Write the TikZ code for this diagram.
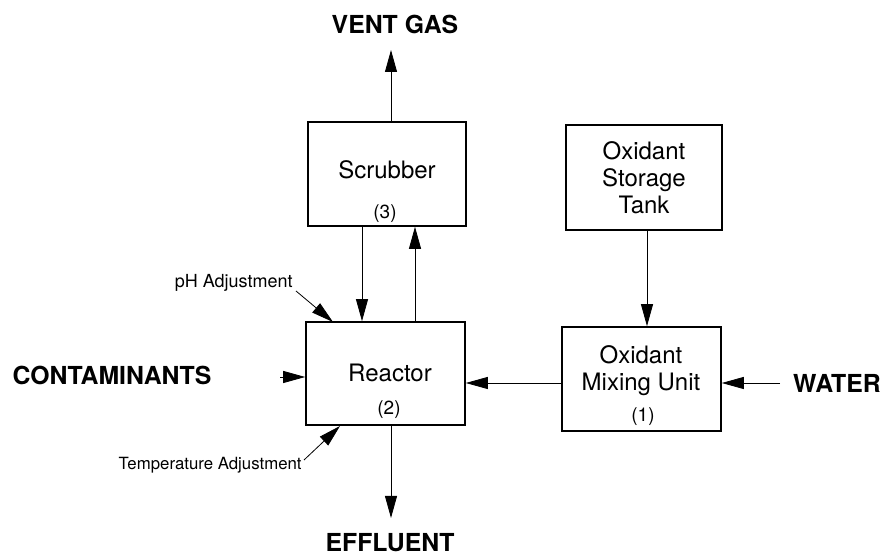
\documentclass[tikz,border=0pt]{standalone}
\usepackage{fontspec}
\setmainfont{TeX Gyre Heros}
\usetikzlibrary{arrows.meta}
\begin{document}
\begin{tikzpicture}[x=0.5pt,y=-0.5pt,
  unit/.style={draw,line width=0.8pt,inner sep=0pt,font=\fontsize{12}{14}\selectfont,align=center},
  lbl/.style={font=\fontsize{12.4}{14}\selectfont\bfseries,inner sep=0pt},
  small/.style={font=\fontsize{9}{11}\selectfont,inner sep=0pt},
  flow/.style={line width=0.4pt,-{Triangle[length=11pt,width=6pt]}},
  num/.style={font=\fontsize{9.5}{11}\selectfont,inner sep=0pt}]
\useasboundingbox (0,0) rectangle (885,555);
% boxes
\node[unit,minimum width=79pt,minimum height=52pt] (scr) at (387,174) {};
\node[unit,minimum width=78pt,minimum height=52.5pt] (tank) at (644,177.5) {};
\node[unit,minimum width=79.5pt,minimum height=51.5pt] (rea) at (385.5,373.5) {};
\node[unit,minimum width=79.5pt,minimum height=52pt] (mix) at (641.5,379) {};
% box texts
\node[font=\fontsize{12}{14}\selectfont,inner sep=0pt] (scrt) at (387,170) {Scrubber};
\node[num] (scrn) at (385,214) {(3)};
\node[font=\fontsize{12}{13.5}\selectfont,inner sep=0pt,align=center] (tankt) at (644,178) {Oxidant\\Storage\\Tank};
\node[font=\fontsize{12}{14}\selectfont,inner sep=0pt] (reat) at (390,373) {Reactor};
\node[num] (rean) at (389,410) {(2)};
\node[font=\fontsize{12}{13.5}\selectfont,inner sep=0pt,align=center] (mixt) at (641,371) {Oxidant\\Mixing Unit};
\node[num] (mixn) at (643,417) {(1)};
% outer labels
\node[lbl] (vent) at (395,24) {VENT GAS};
\node[lbl] (eff) at (390,543) {EFFLUENT};
\node[lbl] (cont) at (112,375) {CONTAMINANTS};
\node[lbl] (water) at (837,383) {WATER};
\node[small,anchor=east] (ph) at (293,283) {pH Adjustment};
\node[small,anchor=east,font=\fontsize{8.4}{10}\selectfont] (temp) at (302,465) {Temperature Adjustment};
% free ends
\coordinate (ventend) at (391,50);
\coordinate (effend) at (391,518);
\coordinate (contstart) at (280,377);
\coordinate (waterstart) at (780,383);
\coordinate (phs) at (296,291);
\coordinate (phe) at (333,322);
\coordinate (ts) at (304,460);
\coordinate (te) at (340,426);
% connectors
\draw[flow] (scr.north -| ventend) -- (ventend);
\draw[flow] (scr.south -| 362,0) -- (rea.north -| 362,0);
\draw[flow] (rea.north -| 415,0) -- (scr.south -| 415,0);
\draw[flow] (tank.south -| 647,0) -- (mix.north -| 647,0);
\draw[flow] (mix.west |- 0,383) -- (rea.east |- 0,383);
\draw[flow] (waterstart) -- (mix.east |- waterstart);
\draw[flow] (contstart) -- (rea.west |- contstart);
\draw[flow] (rea.south -| effend) -- (effend);
\draw[flow] (phs) -- (phe);
\draw[flow] (ts) -- (te);
\end{tikzpicture}
\end{document}
